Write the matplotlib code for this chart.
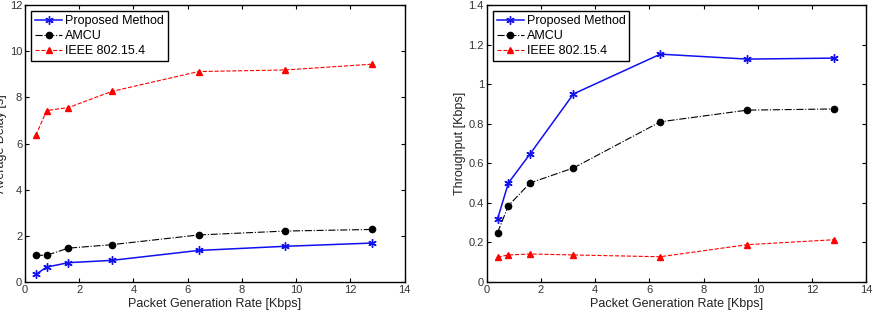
import numpy as np
import matplotlib.pyplot as plt

plt.rcParams['font.family'] = ['Liberation Sans', 'DejaVu Sans']
plt.rcParams['font.size'] = 9

# packet generation rate [Kbps]
rate = [0.4, 0.8, 1.6, 3.2, 6.4, 9.6, 12.8]

# average delay [s]
delay_prop = [0.33, 0.65, 0.84, 0.94, 1.37, 1.55, 1.69]
delay_amcu = [1.16, 1.16, 1.47, 1.62, 2.04, 2.21, 2.28]
delay_ieee = [6.36, 7.43, 7.56, 8.26, 9.12, 9.19, 9.44]

# throughput [Kbps]
thr_prop = [0.319, 0.501, 0.648, 0.951, 1.152, 1.127, 1.132]
thr_amcu = [0.250, 0.386, 0.501, 0.577, 0.810, 0.869, 0.875]
thr_ieee = [0.126, 0.137, 0.142, 0.137, 0.128, 0.189, 0.214]

labels = ['Proposed Method', 'AMCU', 'IEEE 802.15.4']

fig = plt.figure(figsize=(8.73, 3.18), dpi=100)
ax1 = fig.add_axes([0.0286, 0.113, 0.435, 0.871])
ax2 = fig.add_axes([0.5575, 0.113, 0.435, 0.871])


def draw(ax, ys, ylim, yticks, ylabel):
    ax.plot(rate, ys[0], '-', color='#1010f0', marker=(6, 2, 0), ms=6, mew=1.0, lw=1.1, label=labels[0])
    ax.plot(rate, ys[1], '-.', color='k', marker='o', ms=4.5, lw=0.8, label=labels[1])
    ax.plot(rate, ys[2], '--', color='#ff0000', marker='^', ms=5, lw=0.8, label=labels[2])
    ax.set_xlim(0, 14)
    ax.set_ylim(*ylim)
    ax.set_xticks(np.arange(0, 15, 2))
    ax.set_yticks(yticks)
    ax.tick_params(direction='in', top=True, right=True, length=3, labelsize=8, pad=2,
                   labelcolor='#333333')
    ax.set_xlabel('Packet Generation Rate [Kbps]', fontsize=9, labelpad=2.5, color='#222222')
    ax.set_ylabel(ylabel, fontsize=9, labelpad=2, color='#222222')
    leg = ax.legend(loc='upper left', fancybox=False, edgecolor='k', framealpha=1,
                    fontsize=9, handlelength=2.2, borderpad=0.3, labelspacing=0.25,
                    handletextpad=0.2, borderaxespad=0.5)
    leg.get_frame().set_linewidth(1)
    for s in ax.spines.values():
        s.set_linewidth(1)


draw(ax1, [delay_prop, delay_amcu, delay_ieee], (0, 12), np.arange(0, 13, 2), 'Average Delay [s]')
draw(ax2, [thr_prop, thr_amcu, thr_ieee], (0, 1.4), [0, 0.2, 0.4, 0.6, 0.8, 1, 1.2, 1.4], 'Throughput [Kbps]')
ax2.set_yticklabels(['0', '0.2', '0.4', '0.6', '0.8', '1', '1.2', '1.4'])

fig.savefig('out.png', dpi=100)
